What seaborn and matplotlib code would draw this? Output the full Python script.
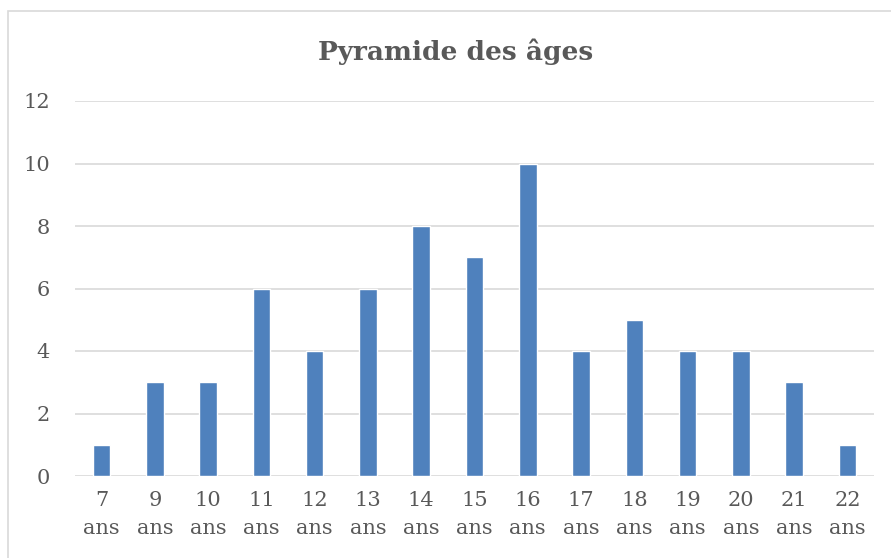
import pandas as pd
import seaborn as sns
import matplotlib
matplotlib.use("Agg")
import matplotlib.pyplot as plt
from matplotlib.patches import Rectangle

# donnees
ages = ['7', '9', '10', '11', '12', '13', '14', '15', '16', '17', '18', '19', '20', '21', '22']
effectifs = [1, 3, 3, 6, 4, 6, 8, 7, 10, 4, 5, 4, 4, 3, 1]
yticks = [0, 2, 4, 6, 8, 10, 12]

df = pd.DataFrame({'Age': [a + '\nans' for a in ages], 'Effectif': effectifs})

sns.set_theme(style='white')
plt.rcParams['font.family'] = ['DejaVu Serif']

W, H = 891, 558
fig = plt.figure(figsize=(W / 100, H / 100), dpi=100)
ax = fig.add_axes([75 / W, (H - 476) / H, 799 / W, 375 / H])

sns.barplot(data=df, x='Age', y='Effectif', color='#4F81BD', width=0.33,
            saturation=1, ax=ax, zorder=3)

ax.set_ylim(0, 12)
ax.set_yticks(yticks)
ax.set_xlim(-0.5, len(ages) - 0.5)
ax.grid(axis='y', color='#D9D9D9', linewidth=1.2, zorder=0)
ax.set_axisbelow(True)
for s in ax.spines.values():
    s.set_visible(False)
ax.set_xlabel('')
ax.set_ylabel('')
ax.tick_params(axis='both', length=0, labelsize=15, colors='#595959')
ax.tick_params(axis='x', pad=11)
ax.tick_params(axis='y', pad=18)
for lab in ax.get_xticklabels():
    lab.set_linespacing(1.6)

fig.text(456 / W, 1 - 52 / H, 'Pyramide des âges', ha='center', va='center',
         fontsize=19, fontweight='bold', color='#595959', family='DejaVu Serif')

# cadre du graphique
fig.patches.append(Rectangle((8 / W, -0.05), 1.0, 1 - 11 / H + 0.05,
                             transform=fig.transFigure, fill=False,
                             edgecolor='#D9D9D9', linewidth=1.2))

fig.savefig('out.png', dpi=100)
